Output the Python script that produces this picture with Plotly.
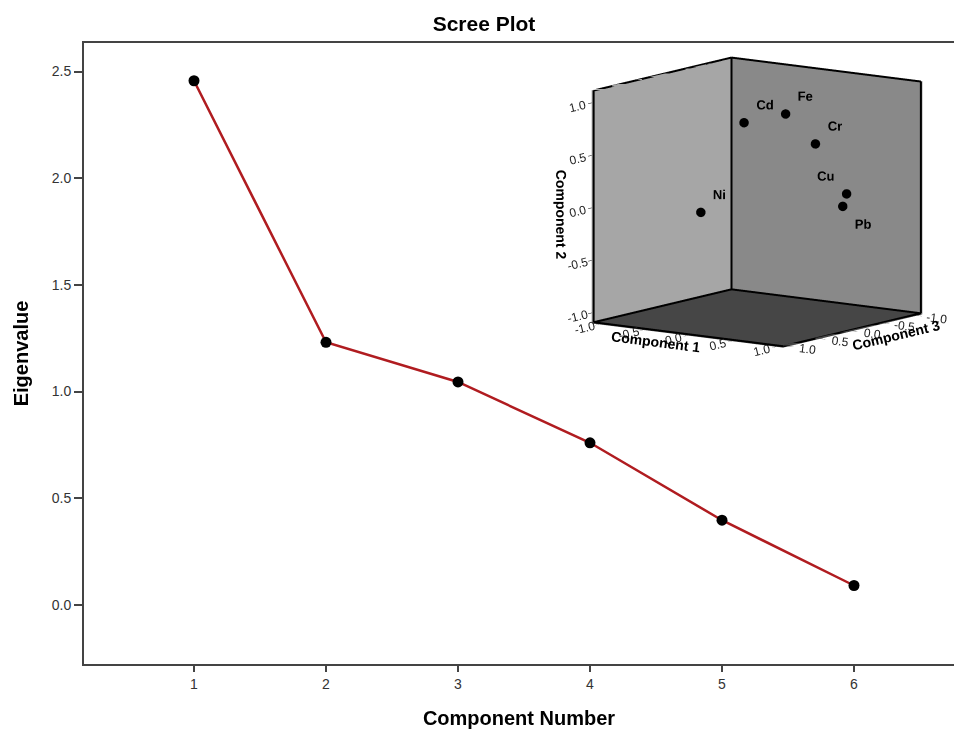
import plotly.graph_objects as go

# ---- Scree plot data ----
components = [1, 2, 3, 4, 5, 6]
eigenvalues = [2.457, 1.231, 1.045, 0.760, 0.397, 0.091]
y_ticks = [0.0, 0.5, 1.0, 1.5, 2.0, 2.5]

# ---- Component plot (inset) data ----
elements = ["Cd", "Fe", "Cr", "Cu", "Pb", "Ni"]
comp1 = [0.10, 0.30, 0.60, 0.85, 0.85, 0.02]
comp2 = [0.83, 0.88, 0.62, 0.15, 0.04, 0.05]
comp3 = [0.34, -0.03, -0.08, -0.22, -0.16, 0.90]
label_pos = ["top right", "top right", "top right", "top left", "bottom right", "top right"]
inset_ticks = [-1.0, -0.5, 0.0, 0.5, 1.0]

FONT = "Liberation Sans, Arial, sans-serif"
LO, HI = -1.08, 1.08        # component 1 & 3 range
ZLO, ZHI = -1.1, 1.12       # component 2 range
EPS = 0.022

fig = go.Figure()

fig.add_trace(go.Scatter(
    x=components, y=eigenvalues, mode="lines+markers",
    line=dict(color="#b01c20", width=2.5),
    marker=dict(color="black", size=11),
    showlegend=False, xaxis="x", yaxis="y"))

# box edges of the three back faces (derived from axis ranges); x=comp3, y=comp1, z=comp2
lo, zlo, zhi = LO + EPS, ZLO + EPS * 0.6, ZHI
ex, ey, ez = [], [], []
def seg(p, q):
    ex.extend([p[0], q[0], None]); ey.extend([p[1], q[1], None]); ez.extend([p[2], q[2], None])
back_b = (lo, lo, zlo); back_t = (lo, lo, zhi)
left_b = (HI, lo, zlo); left_t = (HI, lo, zhi)
right_b = (lo, HI, zlo); right_t = (lo, HI, zhi)
front_b = (HI, HI, zlo)
for p, q in [(back_b, back_t), (left_b, left_t), (right_b, right_t),
             (left_t, back_t), (back_t, right_t),
             (left_b, back_b), (back_b, right_b),
             (left_b, front_b), (front_b, right_b)]:
    seg(p, q)
fig.add_trace(go.Scatter3d(x=ex, y=ey, z=ez, mode="lines",
                           line=dict(color="black", width=4),
                           hoverinfo="skip", showlegend=False, scene="scene"))

fig.add_trace(go.Scatter3d(
    x=comp3, y=comp1, z=comp2, mode="markers+text",
    text=elements, textposition=label_pos,
    textfont=dict(family=FONT, size=13, color="black", weight="bold"),
    marker=dict(color="black", size=5.5),
    showlegend=False, scene="scene"))

ax3 = dict(showgrid=False, zeroline=False, showline=False, showspikes=False,
           showbackground=True, ticks="outside", ticklen=6, tickcolor="black",
           tickvals=inset_ticks, ticktext=[f"{v:.1f}" for v in inset_ticks],
           tickfont=dict(family=FONT, size=12, color="#222"),
           title_font=dict(family=FONT, size=14, color="black"))

W, H = 954, 731
ML, MT, MB = 84, 43, 731 - 664
PW, PH = W - ML, H - MT - MB
DX0, DX1 = 530 - 84, 954 - 84          # scene viewport (plot-area px)
HH = 178
CY = 664 - 222
PXU = HH                                 # px per world unit
SHIFT_UP = 20 / PXU
SHIFT_RIGHT = ((757 - 84) - (DX0 + DX1) / 2) / PXU
ASP = 1.33
d = 2.0
dirv = (0.797, 0.580, 0.174)
rx, ry = -0.589, 0.809                   # screen-right direction in world
cen = dict(x=-SHIFT_RIGHT * rx, y=-SHIFT_RIGHT * ry, z=-SHIFT_UP)

fig.update_layout(
    width=W, height=H,
    margin=dict(l=ML, r=0, t=MT, b=MB),
    paper_bgcolor="white", plot_bgcolor="white",
    font=dict(family=FONT, color="#222"),
    title=dict(text="<b>Scree Plot</b>", x=484 / W, xref="container", xanchor="center",
               y=1 - 24 / H, yref="container", yanchor="middle",
               font=dict(family=FONT, size=21, color="black")),
    xaxis=dict(range=[1 - 110/132, 6 + 100/132], tickvals=components,
               showgrid=False, zeroline=False, showline=True, mirror=True,
               linecolor="#444", linewidth=2, ticks="outside", ticklen=6,
               tickcolor="#444", tickwidth=1.5,
               tickfont=dict(family=FONT, size=14, color="#333"),
               title=dict(text="<b>Component Number</b>", standoff=20,
                          font=dict(family=FONT, size=20, color="black"))),
    yaxis=dict(range=[-0.277, 2.634], tickvals=y_ticks,
               ticktext=[f"{v:.1f}" for v in y_ticks],
               showgrid=False, zeroline=False, showline=True, mirror=False,
               linecolor="#444", linewidth=2, ticks="outside", ticklen=8,
               tickcolor="#444", tickwidth=1.5,
               tickfont=dict(family=FONT, size=14, color="#333"),
               title=dict(text="<b>Eigenvalue</b>", standoff=18,
                          font=dict(family=FONT, size=20, color="black"))),
    scene=dict(
        domain=dict(x=[max(0, DX0 / PW), min(1, DX1 / PW)],
                    y=[max(0, (CY - HH) / PH), min(1, (CY + HH) / PH)]),
        xaxis=dict(ax3, range=[LO, HI], title=dict(text="<b>Component 3</b>"),
                   backgroundcolor="#898989"),
        yaxis=dict(ax3, range=[LO, HI], title=dict(text="<b>Component 1</b>"),
                   backgroundcolor="#a6a6a6"),
        zaxis=dict(ax3, range=[ZLO, ZHI], title=dict(text="<b>Component 2</b>"),
                   backgroundcolor="#464646"),
        aspectmode="manual", aspectratio=dict(x=ASP, y=ASP, z=ASP),
        camera=dict(projection=dict(type="orthographic"),
                    eye=dict(x=dirv[0] * d + cen["x"], y=dirv[1] * d + cen["y"],
                             z=dirv[2] * d + cen["z"]),
                    up=dict(x=0, y=0, z=1), center=cen),
        bgcolor="rgba(0,0,0,0)"),
)

fig.write_html("out.html",
               config={"displayModeBar": False},
               post_script="document.body.style.margin='0px';"
                           "document.body.style.overflow='hidden';")
